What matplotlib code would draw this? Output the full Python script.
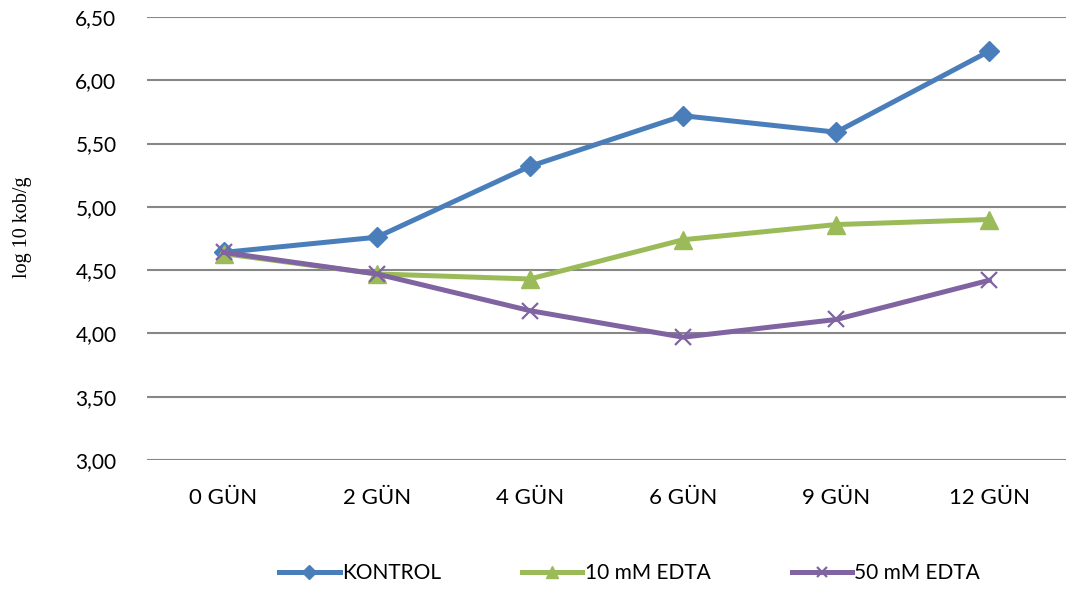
import matplotlib
matplotlib.use("Agg")
import matplotlib.pyplot as plt

# Sampling days and measured counts (log10 cfu/g)
days = ["0 GÜN", "2 GÜN", "4 GÜN", "6 GÜN", "9 GÜN", "12 GÜN"]
kontrol = [4.64, 4.76, 5.32, 5.72, 5.59, 6.23]
edta_10 = [4.63, 4.47, 4.43, 4.74, 4.86, 4.90]
edta_50 = [4.64, 4.47, 4.18, 3.97, 4.11, 4.42]
y_ticks = [3.0, 3.5, 4.0, 4.5, 5.0, 5.5, 6.0, 6.5]

plt.rcParams["font.family"] = ["Lato", "DejaVu Sans"]

fig = plt.figure(figsize=(10.76, 5.92), dpi=100)
ax = fig.add_axes([0.1366, 0.223, 0.854, 0.7483])

x = list(range(len(days)))
ax.plot(x, kontrol, color="#4A7EBB", lw=3.6, marker="D", ms=10.5,
        label="KONTROL", zorder=3)
ax.plot(x, edta_10, color="#9BBB59", lw=3.6, marker="^", ms=12.5,
        label="10 mM EDTA", zorder=3)
ax.plot(x, edta_50, color="#8064A2", lw=3.6, marker="x", ms=11, mew=1.6,
        label="50 mM EDTA", zorder=4)

ax.set_xlim(-0.5, len(days) - 0.5)
ax.set_ylim(3.0, 6.5)
ax.set_yticks(y_ticks)
ax.set_yticklabels([f"{v:.2f}".replace(".", ",") for v in y_ticks])
ax.set_xticks(x)
ax.set_xticklabels(days)
ax.tick_params(axis="both", length=0, labelsize=15, colors="black")
ax.tick_params(axis="x", labelsize=16, pad=20)
ax.tick_params(axis="y", pad=22)

ax.grid(axis="y", color="#878787", lw=1.5)
ax.set_axisbelow(True)
for s in ax.spines.values():
    s.set_visible(False)

ax.set_ylabel("log 10 kob/g", family="Liberation Serif", fontsize=14.5)
ax.yaxis.set_label_coords(-0.125, 0.526)

fig.legend(loc="center", bbox_to_anchor=(0.585, 0.032), ncol=3,
           frameon=False, fontsize=15, handlelength=2.9, handletextpad=0.1,
           columnspacing=3.9, borderpad=0, markerscale=0.65)

fig.savefig("out.png", dpi=100, facecolor="white")
